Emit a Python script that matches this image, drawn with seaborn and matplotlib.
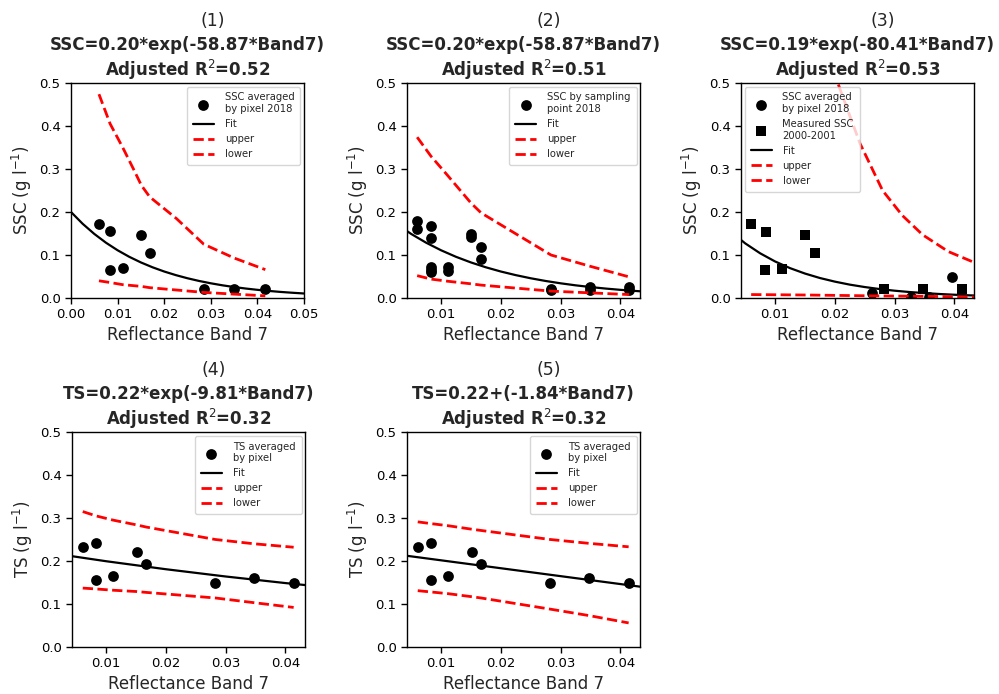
import matplotlib
matplotlib.use("Agg")
import matplotlib.pyplot as plt
import seaborn as sns

# ---------------- data ----------------
# Panel 1: SSC averaged by pixel 2018
p1_x = [0.0060, 0.0084, 0.0084, 0.0111, 0.0151, 0.0169, 0.0285, 0.0350, 0.0417]
p1_y = [0.171, 0.155, 0.064, 0.069, 0.147, 0.105, 0.021, 0.021, 0.021]
p1_upper_x = [0.0060, 0.0084, 0.0111, 0.0134, 0.0151, 0.0169, 0.0226, 0.0285, 0.0350, 0.0417]
p1_upper = [0.474, 0.405, 0.350, 0.300, 0.262, 0.235, 0.185, 0.125, 0.093, 0.066]
p1_lower_x = [0.0060, 0.0084, 0.0111, 0.0151, 0.0169, 0.0285, 0.0350, 0.0417]
p1_lower = [0.040, 0.036, 0.031, 0.027, 0.024, 0.013, 0.009, 0.005]

# Fit curve SSC=0.20*exp(-58.87*Band7), read at regular x steps
fit12_x = [0.0, 0.0025, 0.005, 0.0075, 0.01, 0.0125, 0.015, 0.0175, 0.02, 0.0225,
           0.025, 0.0275, 0.03, 0.0325, 0.035, 0.0375, 0.04, 0.0425, 0.045, 0.0475, 0.05]
fit12_y = [0.2000, 0.1726, 0.1490, 0.1286, 0.1110, 0.0958, 0.0827, 0.0714, 0.0616, 0.0532,
           0.0459, 0.0396, 0.0342, 0.0295, 0.0255, 0.0220, 0.0190, 0.0164, 0.0141, 0.0122, 0.0105]

# Panel 2: SSC by sampling point 2018
p2_x = [0.0060, 0.0060, 0.0083, 0.0083, 0.0083, 0.0083, 0.0083, 0.0111, 0.0111,
        0.0150, 0.0150, 0.0167, 0.0167, 0.0284, 0.0284, 0.0349, 0.0349, 0.0415, 0.0415]
p2_y = [0.180, 0.160, 0.168, 0.140, 0.071, 0.065, 0.060, 0.071, 0.063,
        0.149, 0.143, 0.119, 0.091, 0.022, 0.019, 0.025, 0.019, 0.026, 0.018]
p2_band_x = [0.0060, 0.0083, 0.0111, 0.0150, 0.0167, 0.0284, 0.0349, 0.0415]
p2_upper = [0.374, 0.330, 0.285, 0.221, 0.198, 0.100, 0.074, 0.049]
p2_lower = [0.052, 0.044, 0.039, 0.033, 0.030, 0.016, 0.012, 0.008]

# Panel 3
p3_pix_x = [0.0263, 0.0328, 0.0357, 0.0397]
p3_pix_y = [0.012, 0.003, 0.003, 0.049]
p3_meas_x = [0.0060, 0.0085, 0.0083, 0.0112, 0.0150, 0.0167, 0.0283, 0.0347, 0.0413]
p3_meas_y = [0.171, 0.154, 0.064, 0.068, 0.147, 0.104, 0.020, 0.021, 0.021]
fit3_x = [0.0, 0.0025, 0.005, 0.0075, 0.01, 0.0125, 0.015, 0.0175, 0.02, 0.0225,
          0.025, 0.0275, 0.03, 0.0325, 0.035, 0.0375, 0.04, 0.0425, 0.045]
fit3_y = [0.190, 0.1554, 0.1271, 0.1040, 0.0850, 0.0695, 0.0569, 0.0465, 0.0381, 0.0311,
          0.0255, 0.0208, 0.0170, 0.0139, 0.0114, 0.0093, 0.0076, 0.0062, 0.0051]
p3_upper_x = [0.0168, 0.0205, 0.0242, 0.0280, 0.0313, 0.0347, 0.0390, 0.0450]
p3_upper = [0.70, 0.50, 0.360, 0.250, 0.192, 0.147, 0.108, 0.073]
p3_lower_x = [0.0060, 0.0150, 0.0263, 0.0347, 0.0450]
p3_lower = [0.008, 0.007, 0.005, 0.004, 0.002]

# Panels 4 and 5: TS averaged by pixel
ts_x = [0.0061, 0.0083, 0.0083, 0.0112, 0.0151, 0.0167, 0.0283, 0.0348, 0.0414]
ts_y = [0.232, 0.241, 0.156, 0.165, 0.220, 0.193, 0.148, 0.160, 0.148]
ts_band_x = [0.0061, 0.0083, 0.0112, 0.0151, 0.0167, 0.0283, 0.0348, 0.0414]
p4_upper = [0.315, 0.305, 0.295, 0.284, 0.279, 0.250, 0.240, 0.232]
p4_lower = [0.137, 0.135, 0.132, 0.129, 0.127, 0.114, 0.103, 0.092]
fit4_x = [0.0, 0.01, 0.02, 0.03, 0.04, 0.05]
fit4_y = [0.220, 0.1995, 0.1809, 0.1640, 0.1487, 0.1348]
p5_upper = [0.291, 0.287, 0.282, 0.274, 0.271, 0.250, 0.241, 0.233]
p5_lower = [0.131, 0.128, 0.124, 0.117, 0.114, 0.088, 0.073, 0.056]
fit5_x = [0.0, 0.05]
fit5_y = [0.220, 0.128]

panel_labels = ["(1)", "(2)", "(3)", "(4)", "(5)"]
equations = ["SSC=0.20*exp(-58.87*Band7)",
             "SSC=0.20*exp(-58.87*Band7)",
             "SSC=0.19*exp(-80.41*Band7)",
             "TS=0.22*exp(-9.81*Band7)",
             "TS=0.22+(-1.84*Band7)"]
r2_titles = ["Adjusted R$^2$=0.52", "Adjusted R$^2$=0.51", "Adjusted R$^2$=0.53",
             "Adjusted R$^2$=0.32", "Adjusted R$^2$=0.32"]
ylabels = ["SSC (g l$^{-1}$)", "SSC (g l$^{-1}$)", "SSC (g l$^{-1}$)",
           "TS (g l$^{-1}$)", "TS (g l$^{-1}$)"]

# ---------------- figure ----------------
sns.set_style("white")
plt.rcParams["font.family"] = ["DejaVu Sans"]
plt.rcParams["axes.edgecolor"] = "black"
plt.rcParams["xtick.color"] = "black"
plt.rcParams["ytick.color"] = "black"
plt.rcParams["axes.linewidth"] = 1.0

fig = plt.figure(figsize=(9.99, 6.94), dpi=100)
W, H = 999.0, 694.0
boxes = [(71, 83), (407, 83), (741, 83), (72, 432), (407, 432)]
aw, ah = 233, 215
axes = []
for (l, t) in boxes:
    ax = fig.add_axes([l / W, 1 - (t + ah) / H, aw / W, ah / H])
    axes.append(ax)

dash_kw = dict(color="red", linestyle="--", linewidth=2)
fit_kw = dict(color="black", linewidth=1.6)
pt_kw = dict(color="black", s=60, linewidth=0)

# Panel 1
ax = axes[0]
sns.scatterplot(x=p1_x, y=p1_y, ax=ax, label="SSC averaged\nby pixel 2018", **pt_kw)
sns.lineplot(x=fit12_x, y=fit12_y, ax=ax, label="Fit", **fit_kw)
sns.lineplot(x=p1_upper_x, y=p1_upper, ax=ax, label="upper", **dash_kw)
sns.lineplot(x=p1_lower_x, y=p1_lower, ax=ax, label="lower", **dash_kw)
ax.set_xlim(0, 0.05)
ax.set_xticks([0.0, 0.01, 0.02, 0.03, 0.04, 0.05])
ax.set_xticklabels(["0.00", "0.01", "0.02", "0.03", "0.04", "0.05"])

# Panel 2
ax = axes[1]
sns.scatterplot(x=p2_x, y=p2_y, ax=ax, label="SSC by sampling\npoint 2018", **pt_kw)
sns.lineplot(x=fit12_x, y=fit12_y, ax=ax, label="Fit", **fit_kw)
sns.lineplot(x=p2_band_x, y=p2_upper, ax=ax, label="upper", **dash_kw)
sns.lineplot(x=p2_band_x, y=p2_lower, ax=ax, label="lower", **dash_kw)

# Panel 3
ax = axes[2]
sns.scatterplot(x=p3_pix_x, y=p3_pix_y, ax=ax, label="SSC averaged\nby pixel 2018", **pt_kw)
sns.scatterplot(x=p3_meas_x, y=p3_meas_y, ax=ax, marker="s", label="Measured SSC\n2000-2001", **pt_kw)
sns.lineplot(x=fit3_x, y=fit3_y, ax=ax, label="Fit", **fit_kw)
sns.lineplot(x=p3_upper_x, y=p3_upper, ax=ax, label="upper", **dash_kw)
sns.lineplot(x=p3_lower_x, y=p3_lower, ax=ax, label="lower", **dash_kw)

# Panel 4
ax = axes[3]
sns.scatterplot(x=ts_x, y=ts_y, ax=ax, label="TS averaged\nby pixel", **pt_kw)
sns.lineplot(x=fit4_x, y=fit4_y, ax=ax, label="Fit", **fit_kw)
sns.lineplot(x=ts_band_x, y=p4_upper, ax=ax, label="upper", **dash_kw)
sns.lineplot(x=ts_band_x, y=p4_lower, ax=ax, label="lower", **dash_kw)

# Panel 5
ax = axes[4]
sns.scatterplot(x=ts_x, y=ts_y, ax=ax, label="TS averaged\nby pixel", **pt_kw)
sns.lineplot(x=fit5_x, y=fit5_y, ax=ax, label="Fit", **fit_kw)
sns.lineplot(x=ts_band_x, y=p5_upper, ax=ax, label="upper", **dash_kw)
sns.lineplot(x=ts_band_x, y=p5_lower, ax=ax, label="lower", **dash_kw)

for i, ax in enumerate(axes):
    if i > 0:
        ax.set_xlim(0.0043, 0.0433)
        ax.set_xticks([0.01, 0.02, 0.03, 0.04])
        ax.set_xticklabels(["0.01", "0.02", "0.03", "0.04"])
    ax.set_ylim(0, 0.5)
    ax.set_yticks([0.0, 0.1, 0.2, 0.3, 0.4, 0.5])
    ax.set_yticklabels(["0.0", "0.1", "0.2", "0.3", "0.4", "0.5"])
    ax.tick_params(axis="both", which="both", labelsize=9.5, length=4, width=1,
                   direction="out", bottom=True, left=True)
    for s in ax.spines.values():
        s.set_visible(True)
        s.set_color("black")
    ax.set_xlabel("Reflectance Band 7", fontsize=12, labelpad=3.5)
    ax.set_ylabel(ylabels[i], fontsize=12)
    ax.set_title(r2_titles[i], fontsize=12, fontweight="bold", pad=5)
    ax.annotate(equations[i], xy=(0.5, 1.0), xycoords="axes fraction",
                xytext=(0, 27.4), textcoords="offset points",
                ha="center", va="center", fontsize=12, fontweight="bold")
    ax.annotate(panel_labels[i], xy=(0.5, 1.0), xycoords="axes fraction",
                xytext=(18, 44.6), textcoords="offset points",
                ha="center", va="center", fontsize=12.5)
    loc = "upper left" if i == 2 else "upper right"
    ax.legend(loc=loc, fontsize=7.2, labelspacing=0.5, borderpad=0.6,
              handletextpad=1.1, handlelength=2.1, borderaxespad=0.35)

fig.savefig("out.png", dpi=100)
